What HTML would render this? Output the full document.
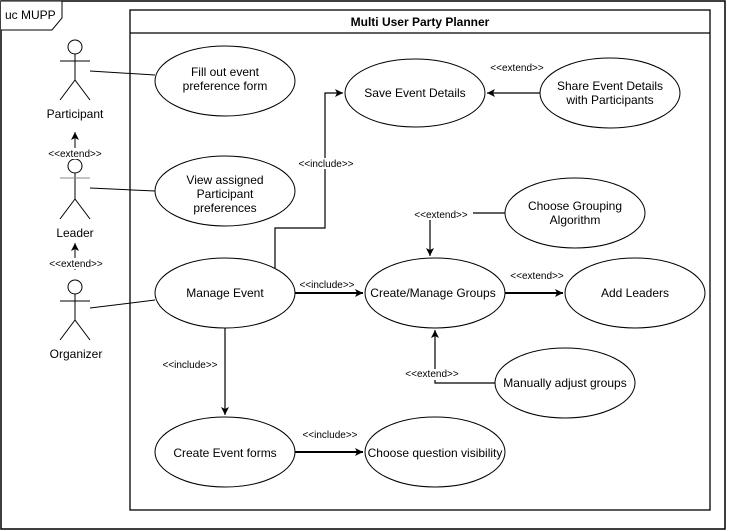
<!DOCTYPE html>
<html><head><style>html,body{margin:0;padding:0;background:#fff}svg{display:block}</style></head><body>
<svg width="731" height="531" xmlns="http://www.w3.org/2000/svg" font-family="Liberation Sans, Helvetica, Arial, sans-serif">
<defs>
<marker id="a" markerWidth="10" markerHeight="10" refX="8" refY="5" orient="auto" markerUnits="userSpaceOnUse"><path d="M0,1 L8,5 L0,9 L2,5 Z" fill="#000"/></marker>
</defs>
<rect x="1" y="1" width="724" height="528" fill="#fff" stroke="#000" stroke-width="1.5"/>
<path d="M1,1 H62 V18 L52,30 H1" fill="#fff" stroke="#000" stroke-width="1"/>
<text x="5" y="19" font-size="12">uc MUPP</text>
<rect x="130" y="10" width="580" height="500" fill="#fff" stroke="#000" stroke-width="1.3"/>
<line x1="130" y1="33" x2="710" y2="33" stroke="#000" stroke-width="1.3"/>
<text x="420" y="26" font-size="12" font-weight="bold" text-anchor="middle">Multi User Party Planner</text>

<g stroke="#000" fill="none" stroke-width="1">
<g transform="translate(75,47)"><circle cx="0" cy="0" r="7" fill="#fff"/><line x1="0" y1="7" x2="0" y2="33"/><line x1="-15" y1="14" x2="15" y2="14"/><line x1="0" y1="33" x2="-15" y2="53"/><line x1="0" y1="33" x2="15" y2="53"/></g>
<g transform="translate(75,166)"><circle cx="0" cy="0" r="7" fill="#fff"/><line x1="0" y1="7" x2="0" y2="33"/><line x1="-15" y1="12" x2="15" y2="12" stroke="#888"/><line x1="0" y1="33" x2="-15" y2="53"/><line x1="0" y1="33" x2="15" y2="53"/></g>
<g transform="translate(75,287)"><circle cx="0" cy="0" r="7" fill="#fff"/><line x1="0" y1="7" x2="0" y2="33"/><line x1="-15" y1="14" x2="15" y2="14"/><line x1="0" y1="33" x2="-15" y2="53"/><line x1="0" y1="33" x2="15" y2="53"/></g>
</g>
<g font-size="12" text-anchor="middle">
<text x="75" y="118">Participant</text>
<text x="75" y="237">Leader</text>
<text x="76" y="358">Organizer</text>
</g>
<g stroke="#000" stroke-width="1" fill="none">
<line x1="75" y1="150" x2="75" y2="132" marker-end="url(#a)"/>
<line x1="75" y1="270" x2="75" y2="243" marker-end="url(#a)"/>
<line x1="90" y1="71" x2="155" y2="75"/>
<line x1="90" y1="188" x2="155" y2="191"/>
<line x1="90" y1="308" x2="155" y2="300"/>
</g>
<g font-size="10" text-anchor="middle">
<rect x="43" y="148" width="64" height="11" fill="#fff"/><text x="75" y="157">&lt;&lt;extend&gt;&gt;</text>
<rect x="43" y="258" width="64" height="11" fill="#fff"/><text x="76" y="267">&lt;&lt;extend&gt;&gt;</text>
</g>

<g stroke="#000" stroke-width="1.2" fill="none">
<path d="M275,268 V228 H325 V93 H343" marker-end="url(#a)"/>
<line x1="540" y1="93" x2="487" y2="93" marker-end="url(#a)"/>
<path d="M505,213 H430 V256" marker-end="url(#a)"/>
<path d="M495,383 H435 V330" marker-end="url(#a)"/>
<line x1="295" y1="293" x2="363" y2="293" stroke-width="2" marker-end="url(#a)"/>
<line x1="505" y1="293" x2="563" y2="293" stroke-width="2" marker-end="url(#a)"/>
<line x1="225" y1="328" x2="225" y2="415" marker-end="url(#a)"/>
<line x1="295" y1="452" x2="363" y2="452" stroke-width="2" marker-end="url(#a)"/>
</g>

<g fill="#fff" stroke="#000" stroke-width="1">
<ellipse cx="225" cy="81" rx="70" ry="35"/>
<ellipse cx="225" cy="191" rx="70" ry="35"/>
<ellipse cx="225" cy="293" rx="70" ry="35"/>
<ellipse cx="225" cy="452" rx="70" ry="35"/>
<ellipse cx="415" cy="93" rx="70" ry="34"/>
<ellipse cx="610" cy="93" rx="70" ry="35"/>
<ellipse cx="575" cy="213" rx="70" ry="35"/>
<ellipse cx="435" cy="293" rx="70" ry="35"/>
<ellipse cx="635" cy="293" rx="70" ry="35"/>
<ellipse cx="565" cy="383" rx="70" ry="35"/>
<ellipse cx="435" cy="452" rx="70" ry="35"/>
</g>
<g font-size="12" text-anchor="middle">
<text x="225" y="76">Fill out event</text><text x="225" y="90">preference form</text>
<text x="225" y="184">View assigned</text><text x="225" y="198">Participant</text><text x="225" y="212">preferences</text>
<text x="225" y="297">Manage Event</text>
<text x="225" y="457">Create Event forms</text>
<text x="415" y="97">Save Event Details</text>
<text x="610" y="90">Share Event Details</text><text x="610" y="104">with Participants</text>
<text x="575" y="210">Choose Grouping</text><text x="575" y="224">Algorithm</text>
<text x="433" y="297">Create/Manage Groups</text>
<text x="635" y="297">Add Leaders</text>
<text x="565" y="387">Manually adjust groups</text>
<text x="435" y="457">Choose question visibility</text>
</g>
<g font-size="10" text-anchor="middle">
<text x="517" y="71">&lt;&lt;extend&gt;&gt;</text>
<rect x="294" y="158" width="64" height="11" fill="#fff"/><text x="326" y="167">&lt;&lt;include&gt;&gt;</text>
<rect x="409" y="209" width="64" height="11" fill="#fff"/><text x="441" y="218">&lt;&lt;extend&gt;&gt;</text>
<text x="327" y="288">&lt;&lt;include&gt;&gt;</text>
<text x="537" y="279">&lt;&lt;extend&gt;&gt;</text>
<rect x="400" y="369" width="64" height="11" fill="#fff"/><text x="432" y="377">&lt;&lt;extend&gt;&gt;</text>
<text x="190" y="368">&lt;&lt;include&gt;&gt;</text>
<text x="330" y="438">&lt;&lt;include&gt;&gt;</text>
</g>
</svg>
</body></html>
